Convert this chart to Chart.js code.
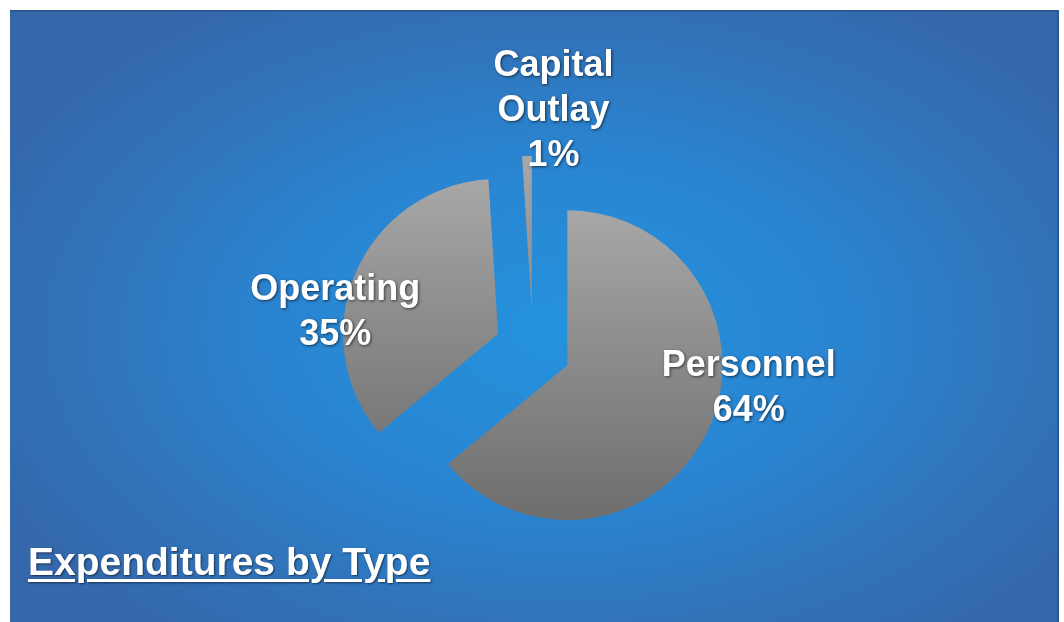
<!DOCTYPE html>
<html>
<head>
<meta charset="utf-8">
<script src="https://cdn.jsdelivr.net/npm/chart.js@4/dist/chart.umd.min.js"></script>
<style>
  html, body { margin: 0; padding: 0; background: #ffffff; }
  #wrap { position: relative; width: 1064px; height: 622px; overflow: hidden; }
  #titulo {
    position: absolute; left: 28px; top: 543px;
    font-family: "Liberation Sans", Arial, sans-serif; font-weight: bold;
    font-size: 39px; line-height: 38px; color: #ffffff; white-space: nowrap;
    text-decoration: underline; text-decoration-thickness: 3px; text-underline-offset: 4px;
    text-shadow: 1px 1px 2px rgba(0, 0, 0, 0.55);
  }
</style>
</head>
<body>
<div id="wrap">
  <canvas id="gastosTipo" width="1064" height="622"></canvas>
  <div id="titulo">Expenditures by Type</div>
</div>
<script>
// Datos de la gráfica
const categorias = ['Personnel', 'Operating', 'Capital Outlay'];
const porcentajes = [64, 35, 1];

// Lineas de cada etiqueta (nombre partido + porcentaje)
const lineasEtiqueta = [['Personnel'], ['Operating'], ['Capital', 'Outlay']];

// Ajuste de posición de etiquetas: giro (grados) y distancia (en radios)
const giroEtiqueta = [-18, -16, 8];
const distEtiqueta = [1.18, 1.06, 1.30];

// Separación de rebanadas (pie "explotado" como en Excel)
const separacion = 38;

// Fondo azul con degradado
const fondoAzul = {
    id: 'fondoAzul',
    beforeDraw(chart) {
        const ctx = chart.ctx;
        ctx.save();
        ctx.fillStyle = '#ffffff';
        ctx.fillRect(0, 0, chart.width, chart.height);
        ctx.beginPath();
        ctx.rect(10, 10, 1048, 612);
        ctx.clip();
        ctx.translate(560, 330);
        ctx.scale(1, 0.62);
        const g = ctx.createRadialGradient(0, 0, 0, 0, 0, 640);
        g.addColorStop(0, '#2492de');
        g.addColorStop(0.45, '#2a84d0');
        g.addColorStop(0.75, '#3173b9');
        g.addColorStop(1, '#3567ab');
        ctx.fillStyle = g;
        ctx.fillRect(-700, -700, 1400, 1400);
        ctx.restore();
        ctx.save();
        ctx.strokeStyle = '#2a5a94';
        ctx.lineWidth = 2;
        ctx.beginPath();
        ctx.moveTo(10, 11); ctx.lineTo(1058, 11);
        ctx.moveTo(1058, 10); ctx.lineTo(1058, 622);
        ctx.stroke();
        ctx.restore();
    }
};

// Dibujar cada rebanada desplazada sobre su bisectriz
const explotar = {
    id: 'explotar',
    beforeDatasetsDraw(chart) {
        const ctx = chart.ctx;
        chart.getDatasetMeta(0).data.forEach(arco => {
            const p = arco.getProps(['startAngle', 'endAngle']);
            const medio = (p.startAngle + p.endAngle) / 2;
            ctx.save();
            ctx.translate(Math.cos(medio) * separacion, Math.sin(medio) * separacion);
            arco.draw(ctx, chart.chartArea);
            ctx.restore();
        });
        return false;
    }
};

// Etiquetas blancas en negrita
const etiquetas = {
    id: 'etiquetas',
    afterDraw(chart) {
        const ctx = chart.ctx;
        const arcos = chart.getDatasetMeta(0).data;
        ctx.save();
        ctx.font = 'bold 36px "Liberation Sans", Arial, sans-serif';
        ctx.fillStyle = '#ffffff';
        ctx.textAlign = 'center';
        ctx.textBaseline = 'middle';
        ctx.shadowColor = 'rgba(0, 0, 0, 0.6)';
        ctx.shadowBlur = 3;
        ctx.shadowOffsetX = 1;
        ctx.shadowOffsetY = 1;
        arcos.forEach((arco, i) => {
            const p = arco.getProps(['x', 'y', 'startAngle', 'endAngle', 'outerRadius']);
            const medio = (p.startAngle + p.endAngle) / 2;
            const cx = p.x + Math.cos(medio) * separacion;
            const cy = p.y + Math.sin(medio) * separacion;
            const ang = medio + giroEtiqueta[i] * Math.PI / 180;
            const d = p.outerRadius * distEtiqueta[i];
            const lx = cx + Math.cos(ang) * d;
            const ly = cy + Math.sin(ang) * d;
            const lineas = lineasEtiqueta[i].concat([porcentajes[i] + '%']);
            const alto = 45;
            const y0 = ly - (lineas.length - 1) * alto / 2;
            lineas.forEach((t, k) => ctx.fillText(t, lx, y0 + k * alto));
        });
        ctx.restore();
    }
};

// Degradado gris de las rebanadas
function grisDegradado(context) {
    const chart = context.chart;
    const area = chart.chartArea;
    if (!area) return '#888888';
    const cy = (area.top + area.bottom) / 2;
    const g = chart.ctx.createLinearGradient(0, cy - 200, 0, cy + 175);
    g.addColorStop(0, '#b0b0b0');
    g.addColorStop(0.5, '#8c8c8c');
    g.addColorStop(1, '#6a6a6a');
    return g;
}

const lienzo = document.getElementById('gastosTipo');

new Chart(lienzo, {
    type: 'pie',
    data: {
        labels: categorias,
        datasets: [{
            data: porcentajes,
            backgroundColor: grisDegradado,
            borderWidth: 0,
            offset: 0
        }]
    },
    options: {
        responsive: false,
        animation: false,
        radius: 155,
        layout: { padding: { left: 2, top: 76, right: 0, bottom: 0 } },
        plugins: {
            legend: { display: false },
            tooltip: { enabled: false },
            title: { display: false }
        }
    },
    plugins: [fondoAzul, explotar, etiquetas]
});
</script>
</body>
</html>
